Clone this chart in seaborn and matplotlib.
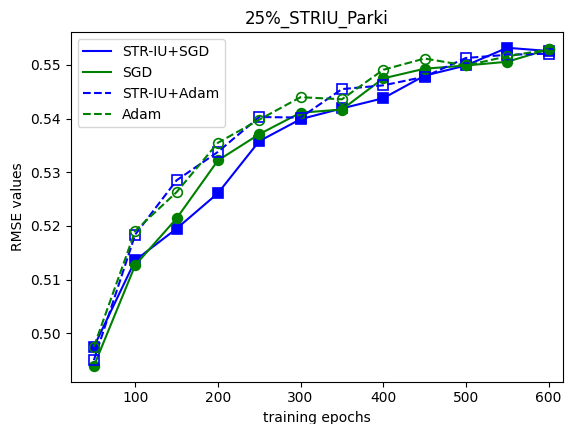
import matplotlib
matplotlib.use("Agg")
import matplotlib.pyplot as plt
from matplotlib.lines import Line2D
import seaborn as sns
import pandas as pd

epochs = [50, 100, 150, 200, 250, 300, 350, 400, 450, 500, 550, 600]
striu_sgd = [0.4975, 0.5136, 0.5195, 0.5261, 0.5358, 0.5399, 0.5419, 0.5438, 0.5480, 0.5499, 0.5532, 0.5526]
sgd = [0.4939, 0.5127, 0.5214, 0.5322, 0.5371, 0.5411, 0.5417, 0.5475, 0.5493, 0.5499, 0.5506, 0.5529]
striu_adam = [0.4950, 0.5184, 0.5285, 0.5338, 0.5403, 0.5402, 0.5455, 0.5462, 0.5478, 0.5513, 0.5519, 0.5521]
adam = [0.4975, 0.5191, 0.5263, 0.5355, 0.5398, 0.5440, 0.5436, 0.5491, 0.5512, 0.5499, 0.5516, 0.5529]

series = [
    ("STR-IU+SGD", striu_sgd, "blue", "-", "s", True),
    ("SGD", sgd, "green", "-", "o", True),
    ("STR-IU+Adam", striu_adam, "blue", "--", "s", False),
    ("Adam", adam, "green", "--", "o", False),
]

plt.rcParams["font.family"] = ["DejaVu Sans"]

fig = plt.figure(figsize=(5.66, 4.24), dpi=100)
ax = fig.add_axes([0.125, 0.10, 0.869, 0.824])

handles = []
for name, vals, color, ls, mk, filled in series:
    df = pd.DataFrame({"epoch": epochs, "rmse": vals})
    sns.lineplot(data=df, x="epoch", y="rmse", ax=ax, color=color, linestyle=ls,
                 linewidth=1.5, marker=mk, markersize=7,
                 markerfacecolor=color if filled else "none",
                 markeredgecolor=color, markeredgewidth=1.2, legend=False)
    handles.append(Line2D([], [], color=color, linestyle=ls, linewidth=1.5, label=name))

ax.legend(handles=handles, loc="upper left", fontsize=10, frameon=True)
ax.set_title("25%_STRIU_Parki", fontsize=12)
ax.set_xlabel("training epochs", fontsize=10)
ax.set_ylabel("RMSE values", fontsize=10)
ax.set_xticks([100, 200, 300, 400, 500, 600])
ax.set_yticks([0.50, 0.51, 0.52, 0.53, 0.54, 0.55])
ax.set_yticklabels(["0.50", "0.51", "0.52", "0.53", "0.54", "0.55"])
ax.set_xlim(22, 617)
ax.set_ylim(0.4910, 0.5561)
ax.tick_params(labelsize=10)

fig.savefig("out.png", dpi=100)
